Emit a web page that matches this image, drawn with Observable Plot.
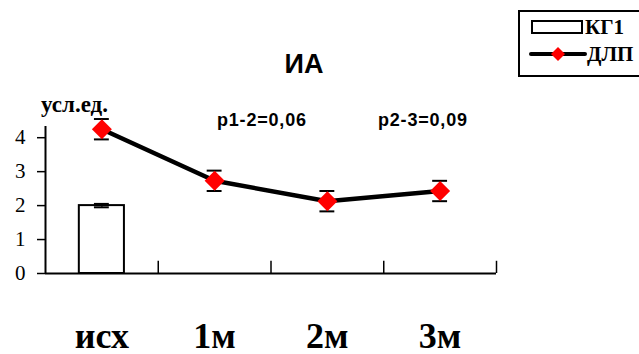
<!DOCTYPE html>
<html>
<head>
<meta charset="utf-8">
<script src="https://cdn.jsdelivr.net/npm/d3@7"></script>
<script src="https://cdn.jsdelivr.net/npm/@observablehq/plot@0.6"></script>
<style>
  html, body { margin: 0; padding: 0; background: white; }
  svg { display: block; }
</style>
</head>
<body>
<div id="chart"></div>
<script>
// ---- data ----
const categories = ["исх", "1м", "2м", "3м"];
const kgValues = [2.0];          // КГ1 (bar, only at "исх")
const kgErrors = [0.05];
const dlpValues = [4.25, 2.73, 2.13, 2.43]; // ДЛП (line)
const dlpErrors = [0.3, 0.3, 0.3, 0.3];
const yTicks = [0, 1, 2, 3, 4];
const titleText = "ИА";
const unitText = "усл.ед.";
const pLabels = ["p1-2=0,06", "p2-3=0,09"];
const legendLabels = ["КГ1", "ДЛП"];

// ---- tables built from the arrays ----
const kg = kgValues.map((v, i) => ({i, v, e: kgErrors[i]}));
const dlp = dlpValues.map((v, i) => ({i, v, e: dlpErrors[i]}));

const serif = "'Times New Roman', 'Liberation Serif', serif";
const sans = "Arial, 'Liberation Sans', sans-serif";

const capHalf = 0.066; // half width of error-bar caps, in band units

const svg = Plot.plot({
  width: 639,
  height: 354,
  marginLeft: 45,
  marginRight: 143,
  marginTop: 126,
  marginBottom: 81,
  x: {type: "linear", domain: [-0.5, categories.length - 0.5], axis: null},
  y: {domain: [0, 4.33], axis: null},
  style: {fontFamily: serif, background: "white", color: "black", overflow: "visible"},
  marks: [
    // bar КГ1
    Plot.rectY(kg, {x1: d => d.i - 0.2, x2: d => d.i + 0.2, y: "v", fill: "white", stroke: "black", strokeWidth: 2}),
    // bar error
    Plot.ruleX(kg, {x: "i", y1: d => d.v - d.e, y2: d => d.v + d.e, stroke: "black", strokeWidth: 1.5}),
    Plot.ruleY(kg, {y: d => d.v - d.e, x1: d => d.i - capHalf, x2: d => d.i + capHalf, stroke: "black", strokeWidth: 2}),
    Plot.ruleY(kg, {y: d => d.v + d.e, x1: d => d.i - capHalf, x2: d => d.i + capHalf, stroke: "black", strokeWidth: 2}),
    // axes lines
    Plot.ruleX([-0.5], {stroke: "black", strokeWidth: 2}),
    Plot.ruleY([0], {stroke: "black", strokeWidth: 2}),
    // category boundary ticks (pointing inward)
    Plot.ruleX(categories, {x: (d, i) => i + 0.5, y1: 0, y2: 0.36, stroke: "black", strokeWidth: 1.5}),
    // y axis ticks
    Plot.axisY({ticks: yTicks, tickSize: 8, text: null, strokeWidth: 1.5, label: null}),
    // y tick labels
    Plot.text(yTicks, {frameAnchor: "left", y: d => d, dx: -20, text: d => String(d), textAnchor: "end", lineAnchor: "middle", fontSize: 21, fontFamily: serif, fill: "black"}),
    // category labels
    Plot.text(categories, {x: (d, i) => i, y: 0, dy: 74, text: d => d, lineAnchor: "bottom", fontSize: 36, fontWeight: "bold", fontFamily: serif, fill: "black"}),
    // ДЛП error bars
    Plot.ruleX(dlp, {x: "i", y1: d => d.v - d.e, y2: d => d.v + d.e, stroke: "black", strokeWidth: 1.5}),
    Plot.ruleY(dlp, {y: d => d.v - d.e, x1: d => d.i - capHalf, x2: d => d.i + capHalf, stroke: "black", strokeWidth: 2}),
    Plot.ruleY(dlp, {y: d => d.v + d.e, x1: d => d.i - capHalf, x2: d => d.i + capHalf, stroke: "black", strokeWidth: 2}),
    // ДЛП line + markers
    Plot.line(dlp, {x: "i", y: "v", stroke: "black", strokeWidth: 4.5}),
    Plot.dot(dlp, {x: "i", y: "v", symbol: "diamond2", r: 9, fill: "#ff0000", stroke: "none"})
  ]
});

const s = d3.select(svg);

function addText(x, y, t, family, size, anchor, extra) {
  const el = s.append("text").attr("x", x).attr("y", y)
    .attr("text-anchor", anchor)
    .style("text-anchor", anchor)
    .style("font-family", family).style("font-weight", "bold").style("font-size", size + "px")
    .attr("fill", "black").text(t);
  if (extra) extra(el);
  return el;
}

// title
addText(304, 73, titleText, sans, 27, "middle");
// unit label
addText(41, 112, unitText, serif, 23, "start");
// p labels
addText(217, 126, pLabels[0], sans, 18, "start", el => el.style("letter-spacing", "0.8px"));
addText(378, 126, pLabels[1], sans, 18, "start", el => el.style("letter-spacing", "0.8px"));

// legend
const lg = s.append("g");
lg.append("rect").attr("x", 519).attr("y", 11).attr("width", 130).attr("height", 65)
  .attr("fill", "white").attr("stroke", "black").attr("stroke-width", 2);
lg.append("rect").attr("x", 532).attr("y", 21).attr("width", 50).attr("height", 12)
  .attr("fill", "white").attr("stroke", "black").attr("stroke-width", 2);
lg.append("line").attr("x1", 531).attr("x2", 585).attr("y1", 54).attr("y2", 54)
  .attr("stroke", "black").attr("stroke-width", 4).attr("stroke-linecap", "round");
lg.append("path").attr("d", "M558,47L565,54L558,61L551,54Z").attr("fill", "#ff0000");
addText(585, 34, legendLabels[0], serif, 21, "start");
addText(587, 61, legendLabels[1], serif, 21, "start");

document.getElementById("chart").appendChild(svg);
</script>
</body>
</html>
